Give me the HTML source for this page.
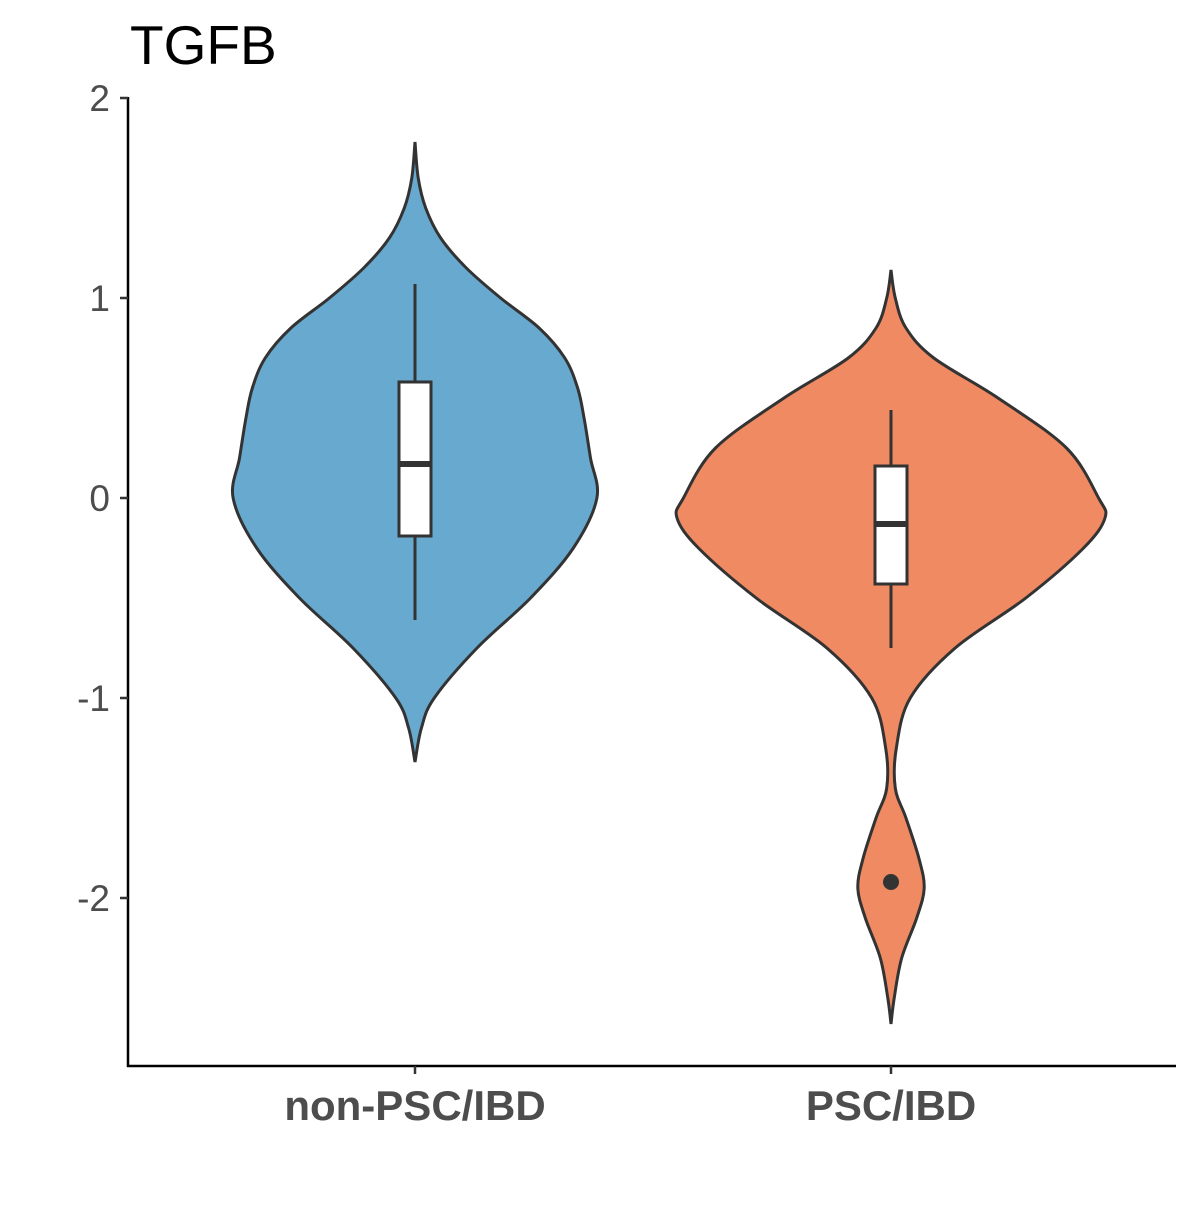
<!DOCTYPE html>
<html><head><meta charset="utf-8"><style>
html,body{margin:0;padding:0;background:#fff;}
svg text{font-family:"Liberation Sans",Arial,sans-serif;}
</style></head><body>
<svg id="chart" width="1200" height="1200" viewBox="0 0 1200 1200" xmlns="http://www.w3.org/2000/svg">
<rect width="1200" height="1200" fill="#fff"/>
<text x="130" y="64" font-size="55" fill="#000">TGFB</text>
<g id="yaxis"></g>
<g id="xaxis"></g>
<g id="plot"></g>
</svg>
<script>
const categories = ["non-PSC/IBD", "PSC/IBD"];
const colors = ["#67a9cf", "#ef8a62"];
const yTicks = [2, 1, 0, -1, -2];
const yTickLabels = ["2", "1", "0", "-1", "-2"];
const violin1Y = [1.78, 1.6, 1.45, 1.3, 1.15, 1.0, 0.85, 0.7, 0.55, 0.4, 0.2, 0.0, -0.25, -0.5, -0.75, -1.0, -1.15, -1.32];
const violin1W = [0, 0.015, 0.05, 0.12, 0.24, 0.4, 0.58, 0.7, 0.76, 0.79, 0.82, 0.85, 0.74, 0.54, 0.29, 0.09, 0.03, 0];
const violin2Y = [1.14, 1.0, 0.85, 0.7, 0.5, 0.25, 0.0, -0.1, -0.25, -0.5, -0.75, -1.0, -1.25, -1.45, -1.6, -1.8, -1.95, -2.1, -2.3, -2.5, -2.63];
const violin2W = [0, 0.02, 0.07, 0.2, 0.5, 0.82, 0.97, 1.0, 0.9, 0.63, 0.3, 0.09, 0.025, 0.02, 0.07, 0.13, 0.155, 0.12, 0.05, 0.015, 0];
const boxQ1 = [-0.19, -0.43];
const boxMedian = [0.17, -0.13];
const boxQ3 = [0.58, 0.16];
const whiskerLow = [-0.61, -0.75];
const whiskerHigh = [1.07, 0.44];
const outliers = [[], [-1.92]];

const NS = "http://www.w3.org/2000/svg";
const yScale = v => 498 - v * 200;
const xScale = i => 415 + i * 476;
const maxHalf = 214;
function mk(tag, attrs, parent){const e=document.createElementNS(NS,tag);for(const k in attrs)e.setAttribute(k,attrs[k]);parent.appendChild(e);return e;}

const yaxis=document.getElementById('yaxis'), xaxis=document.getElementById('xaxis'), plot=document.getElementById('plot');
let l=mk('line',{x1:128,y1:97,x2:128,y2:1067,stroke:'#000','stroke-width':2.5},yaxis);


yTicks.forEach((t,i)=>{
  const y=yScale(t);
  const tk=mk('line',{x1:120,y1:y,x2:128,y2:y,stroke:'#333','stroke-width':2.5},yaxis);
  
  
  const tx=mk('text',{x:110,y:y+13,'text-anchor':'end','font-size':37,fill:'#4d4d4d'},yaxis);
  tx.textContent=yTickLabels[i];
  
  
});
l=mk('line',{x1:127,y1:1066,x2:1176,y2:1066,stroke:'#000','stroke-width':2.5},xaxis);


categories.forEach((c,i)=>{
  const x=xScale(i);
  const tk=mk('line',{x1:x,y1:1066,x2:x,y2:1074,stroke:'#333','stroke-width':2.5},xaxis);
  
  
  const tx=mk('text',{x:x,y:1120,'text-anchor':'middle','font-size':42,'font-weight':'bold',fill:'#4d4d4d'},xaxis);
  tx.textContent=c;
  
  
});

function spline(pts){
  let d='M'+pts[0][0]+','+pts[0][1];
  for(let i=0;i<pts.length-1;i++){
    const p0=pts[Math.max(i-1,0)],p1=pts[i],p2=pts[i+1],p3=pts[Math.min(i+2,pts.length-1)];
    const c1=[p1[0]+(p2[0]-p0[0])/6,p1[1]+(p2[1]-p0[1])/6];
    const c2=[p2[0]-(p3[0]-p1[0])/6,p2[1]-(p3[1]-p1[1])/6];
    d+=' C'+c1[0]+','+c1[1]+' '+c2[0]+','+c2[1]+' '+p2[0]+','+p2[1];
  }
  return d;
}
const vY=[violin1Y,violin2Y], vW=[violin1W,violin2W];
categories.forEach((c,i)=>{
  const cx=xScale(i);
  const right=vY[i].map((y,j)=>[cx+vW[i][j]*maxHalf,yScale(y)]);
  const left=vY[i].map((y,j)=>[cx-vW[i][j]*maxHalf,yScale(y)]).reverse();
  const d=spline(right)+' '+spline(left).replace('M','L')+' Z';
  const p=mk('path',{d:d,fill:colors[i],stroke:'#333','stroke-width':3},plot);
  
  
  const w=mk('line',{x1:cx,y1:yScale(whiskerHigh[i]),x2:cx,y2:yScale(whiskerLow[i]),stroke:'#333','stroke-width':3},plot);
  
  
  const b=mk('rect',{x:cx-16,y:yScale(boxQ3[i]),width:32,height:yScale(boxQ1[i])-yScale(boxQ3[i]),fill:'#fff',stroke:'#333','stroke-width':3},plot);
  
  
  const m=mk('line',{x1:cx-16,y1:yScale(boxMedian[i]),x2:cx+16,y2:yScale(boxMedian[i]),stroke:'#333','stroke-width':6},plot);
  
  
  outliers[i].forEach(o=>{
    const pt=mk('circle',{cx:cx,cy:yScale(o),r:8,fill:'#333'},plot);
    
    
  });
});
</script>
</body></html>
